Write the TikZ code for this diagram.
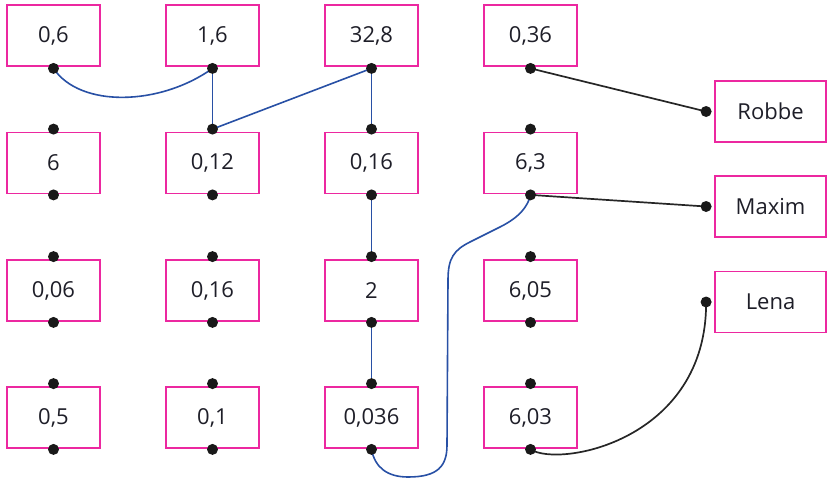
\documentclass[tikz,border=0pt]{standalone}
\usepackage{fontspec}
\setmainfont{Open Sans}
\definecolor{boxpink}{RGB}{236,40,160}
\definecolor{linkblue}{RGB}{40,80,165}
\definecolor{txt}{RGB}{30,30,40}
\definecolor{dotc}{RGB}{25,25,25}
\begin{document}
\begin{tikzpicture}[x=1pt,y=-1pt,
  numbox/.style={draw=boxpink,line width=1.8pt,minimum width=93pt,minimum height=61pt,inner sep=0pt,text=txt,font=\fontsize{22}{26}\selectfont},
  namebox/.style={numbox,minimum width=111pt},
  dotpt/.style={circle,fill=dotc,inner sep=0pt,minimum size=11pt},
  bluelink/.style={draw=linkblue,line width=1.6pt},
  blacklink/.style={draw=black!85,line width=1.7pt}]
\useasboundingbox (0,0) rectangle (827,479);
% grid boxes
\foreach \r/\y in {1/35.5,2/163,3/290.5,4/417.5}{
  \foreach \c/\x in {1/53.5,2/212.5,3/371.5,4/530.5}{
    \coordinate (p\r\c) at (\x,\y);
  }
}
\node[numbox] (n11) at (p11) {0,6};
\node[numbox] (n12) at (p12) {1,6};
\node[numbox] (n13) at (p13) {32,8};
\node[numbox] (n14) at (p14) {0,36};
\node[numbox] (n21) at (p21) {6};
\node[numbox] (n22) at (p22) {0,12};
\node[numbox] (n23) at (p23) {0,16};
\node[numbox] (n24) at (p24) {6,3};
\node[numbox] (n31) at (p31) {0,06};
\node[numbox] (n32) at (p32) {0,16};
\node[numbox] (n33) at (p33) {2};
\node[numbox] (n34) at (p34) {6,05};
\node[numbox] (n41) at (p41) {0,5};
\node[numbox] (n42) at (p42) {0,1};
\node[numbox] (n43) at (p43) {0,036};
\node[numbox] (n44) at (p44) {6,03};
% name boxes
\node[namebox] (robbe) at (770.5,111.5) {Robbe};
\node[namebox] (maxim) at (770.5,206.5) {Maxim};
\node[namebox] (lena) at (770.5,302) {Lena};
% dot positions
\foreach \c in {1,2,3,4}{
  \coordinate (b1\c) at ([yshift=-1.5pt]n1\c.south);
  \foreach \r in {2,3,4}{
    \coordinate (t\r\c) at ([yshift=2.5pt]n\r\c.north);
    \coordinate (b\r\c) at ([yshift=-0.5pt]n\r\c.south);
  }
}
\coordinate (rd) at ([xshift=-8pt]robbe.west);
\coordinate (md) at ([xshift=-8pt]maxim.west);
\coordinate (ld) at ([xshift=-8pt]lena.west);
% blue links
\draw[bluelink] (b11) .. controls (80,108) and (160,106) .. (b12);
\draw[bluelink] (b12) -- (t22);
\draw[bluelink] (b13) -- (t22);
\draw[bluelink] (b13) -- (t23);
\draw[bluelink] (b23) -- (t33);
\draw[bluelink] (b33) -- (t43);
\draw[bluelink] (b43) .. controls (375,468) and (388,477) .. (408,477)
  .. controls (438,477) and (447,466) .. (447,445)
  -- (448,280) .. controls (448,258) and (454,250) .. (470,242)
  -- (500,227) .. controls (520,217) and (528,206) .. (b24);
% black links
\draw[blacklink] (b14) -- (rd);
\draw[blacklink] (b24) -- (md);
\draw[blacklink] (b44) .. controls (560,468) and (707,440) .. (ld);
% dots
\foreach \c in {1,2,3,4}{
  \node[dotpt] at (b1\c) {};
  \foreach \r in {2,3,4}{
    \node[dotpt] at (t\r\c) {};
    \node[dotpt] at (b\r\c) {};
  }
}
\node[dotpt] at (rd) {};
\node[dotpt] at (md) {};
\node[dotpt] at (ld) {};
\end{tikzpicture}
\end{document}
